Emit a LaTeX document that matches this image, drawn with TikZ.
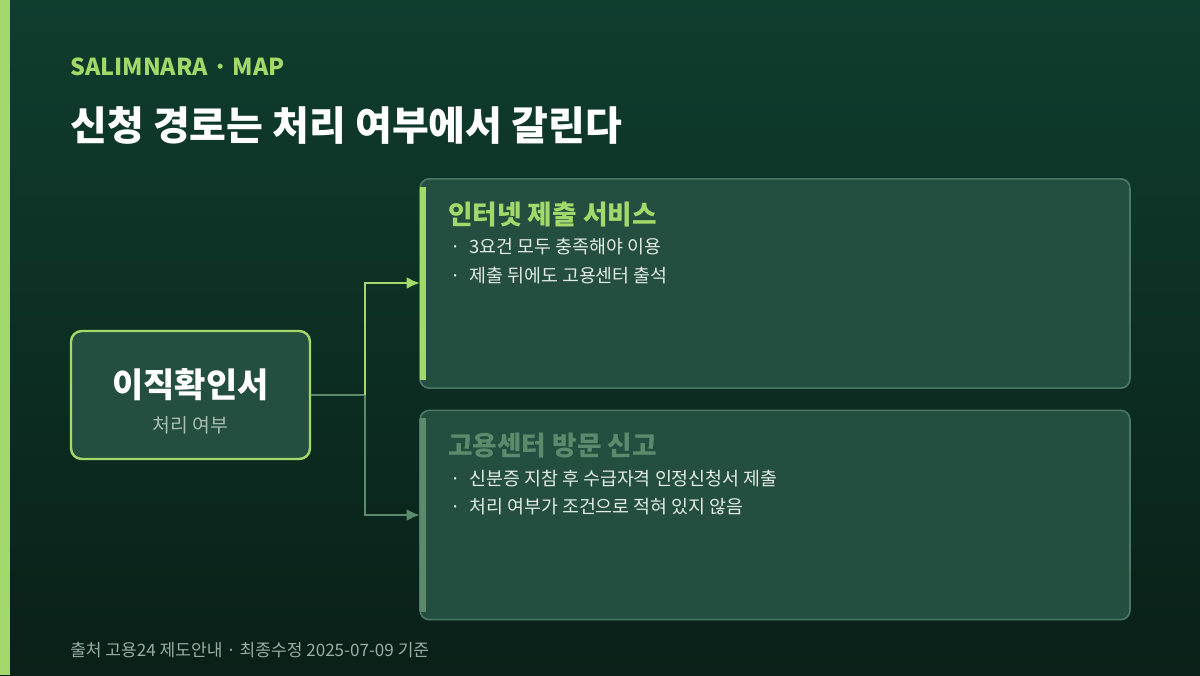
\documentclass[tikz,border=0pt]{standalone}
\usepackage{fontspec}
\setmainfont{Noto Sans CJK KR}
\usetikzlibrary{positioning}
\definecolor{bgtop}{HTML}{0F3D2E}
\definecolor{bgbot}{HTML}{0A2018}
\definecolor{cardfill}{HTML}{244E40}
\definecolor{cardline}{HTML}{4B7A63}
\definecolor{accent}{HTML}{A3D96A}
\definecolor{muted}{HTML}{5C8A6C}
\definecolor{bodytext}{HTML}{E2EBE4}
\definecolor{subtext}{HTML}{A9BDB1}
\tikzset{
	card/.style={draw=cardline, line width=1.2pt, rounded corners=7pt, fill=cardfill},
	cardtitle/.style={anchor=west, inner sep=0pt, font=\bfseries\fontsize{20}{22}\selectfont},
	bullet/.style={anchor=west, inner sep=0pt, text=bodytext, font=\fontsize{13.8}{15}\selectfont},
	link/.style={line width=2pt, -{Latex[length=10pt,width=9pt]}},
}
\usetikzlibrary{arrows.meta}
\begin{document}
\begin{tikzpicture}[x=0.75pt, y=-0.75pt]
		\shade[top color=bgtop, bottom color=bgbot] (0,0) rectangle (1200,675);
		\useasboundingbox (0,0) rectangle (1200,675);
		\fill[accent] (0,0) rectangle (10,675);
		
		\node (kicker) [anchor=west, inner sep=0pt, text=accent, font=\bfseries\fontsize{17.5}{19}\selectfont] at (70,67) {SALIMNARA · MAP};
		\node (title) [anchor=west, inner sep=0pt, text=white, font=\bfseries\fontsize{30}{34}\selectfont] at (70,126) {신청 경로는 처리 여부에서 갈린다};
		
		% source box
		\node (src) [draw=accent, line width=1.8pt, rounded corners=8pt, fill=cardfill, minimum width=179.25pt, minimum height=96pt] at (190.5,395) {};
		\node (srcname) [text=white, inner sep=0pt, font=\bfseries\fontsize{25.5}{28}\selectfont] at (190.5,385) {이직확인서};
		\node (srcsub) [text=subtext, inner sep=0pt, font=\fontsize{14.5}{16}\selectfont] at (190.5,425) {처리 여부};
		
		% online card
		\node (online) [card, minimum width=532.5pt, minimum height=157pt] at (775,283.5) {};
		\fill[accent] (420,187) rectangle (426,380);
		\node (onlinet) [cardtitle, text=accent] at (448,215) {인터넷 제출 서비스};
		\node (on1) [bullet] at (450,247) {·\hspace{6.5pt}3요건 모두 충족해야 이용};
		\node (on2) [bullet] at (450,276) {·\hspace{6.5pt}제출 뒤에도 고용센터 출석};
		
		% visit card
		\node (visit) [card, minimum width=532.5pt, minimum height=157pt] at (775,515) {};
		\fill[muted] (420,418) rectangle (426,612);
		\node (visitt) [cardtitle, text=muted] at (448,446) {고용센터 방문 신고};
		\node (vi1) [bullet] at (450,479) {·\hspace{6.5pt}신분증 지참 후 수급자격 인정신청서 제출};
		\node (vi2) [bullet] at (450,507) {·\hspace{6.5pt}처리 여부가 조건으로 적혀 있지 않음};
		
		\coordinate (fork) at (365,395);
		\coordinate (upto) at (420,283);
		\coordinate (downto) at (420,515);
		\begin{scope}
			\draw[muted, line width=2pt] (src.east) -- (fork);
			\draw[link, accent] (fork) |- (upto);
			\draw[link, muted] (fork) |- (downto);
		\end{scope}
		
		\node (foot) [anchor=west, inner sep=0pt, text=subtext!80!cardline, font=\fontsize{12.8}{14}\selectfont] at (70,650) {출처 고용24 제도안내 · 최종수정 2025-07-09 기준};
	\end{tikzpicture}
\end{document}
